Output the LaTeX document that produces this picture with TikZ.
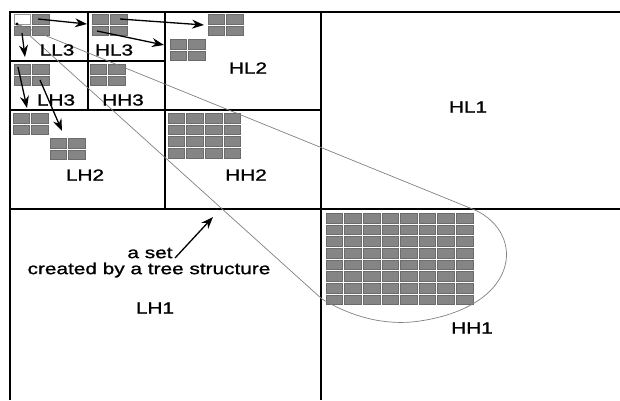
\documentclass[tikz,border=0pt]{standalone}
\usepackage{fontspec}
\newfontfamily\diagfont[FakeStretch=1.3, FakeBold=1.2]{Liberation Sans}
\usetikzlibrary{arrows.meta}

\begin{document}
\begin{tikzpicture}[
    x=1pt, y=-1pt,
    band/.style={line width=2pt},
    cell/.style={fill=black!48, draw=black!58, line width=.4pt},
    startcell/.style={fill=white, draw=black!40, line width=.4pt},
    loopline/.style={draw=black!50, line width=.7pt},
    pointer/.style={line width=1.3pt, -{Stealth[length=12pt, width=9pt]}},
    lbl/.style={font=\diagfont\fontsize{16}{18}\selectfont, inner sep=1pt},
]
    \useasboundingbox (0,0) rectangle (620,400);

    %% coefficient groups: x/y of the top left corner, columns, rows
    \foreach \gx/\gy/\nc/\nr in {13/13/2/2, 91/13/2/2, 13/63/2/2, 89/63/2/2,
                                 207/13/2/2, 169/38/2/2, 12/112/2/2, 49/137/2/2,
                                 167/112/4/4, 325/212/8/8}{
        \foreach \i in {1,...,\nc}{
            \foreach \j in {1,...,\nr}{
                \draw[cell] ({\gx+(\i-1)*18.6+1}, {\gy+(\j-1)*11.7+1}) rectangle ++(16.6, 9.7);
            }
        }
    }
    \draw[startcell] (14, 14) rectangle ++(16.6, 9.7);

    %% the subbands
    \draw[band] (10,400) -- (10,12) -- (620,12);
    \draw[band] (321,12) -- (321,400);
    \draw[band] (10,209) -- (620,209);
    \draw[band] (165,12) -- (165,209);
    \draw[band] (10,110) -- (321,110);
    \draw[band] (88,12) -- (88,110);
    \draw[band] (10,61) -- (165,61);

    %% the set spanned by the tree
    \coordinate (root) at (17,24);
    \draw[loopline] (root) -- (470,208) .. controls (525,228) and (525,305) .. (420,321)
        .. controls (380,327) and (345,313) .. (322,299) -- cycle;
    \fill (root) circle (1.6pt);

    %% parent to children
    \coordinate (llA) at (38,19);   \coordinate (llB) at (87,24);
    \coordinate (hlA) at (120,19);  \coordinate (hlB) at (204,25);
    \coordinate (hlC) at (97,31);   \coordinate (hlD) at (164,45);
    \coordinate (llC) at (22,33);   \coordinate (llD) at (25,57);
    \coordinate (lhA) at (18,67);   \coordinate (lhB) at (27,108);
    \coordinate (lhC) at (40,80);   \coordinate (lhD) at (62,131);
    \draw[pointer] (llA) -- (llB);
    \draw[pointer] (hlA) -- (hlB);
    \draw[pointer] (hlC) -- (hlD);
    \draw[pointer] (llC) -- (llD);
    \draw[pointer] (lhA) -- (lhB);
    \draw[pointer] (lhC) -- (lhD);

    %% subband names
    \node[lbl] (nLL3) at (57,50)  {LL3};
    \node[lbl] (nHL3) at (114,50) {HL3};
    \node[lbl] (nLH3) at (56,100) {LH3};
    \node[lbl] (nHH3) at (123,100) {HH3};
    \node[lbl] (nHL2) at (248,68) {HL2};
    \node[lbl] (nLH2) at (85,175) {LH2};
    \node[lbl] (nHH2) at (246,175) {HH2};
    \node[lbl] (nHL1) at (468,107) {HL1};
    \node[lbl] (nLH1) at (155,308) {LH1};
    \node[lbl] (nHH1) at (472,328) {HH1};

    %% note
    \node[lbl] (set) at (150,253) {a set};
    \node[lbl] (tree) at (149,270) {created by a tree structure};
    \coordinate (setA) at (175,258);
    \coordinate (setB) at (213,217);
    \draw[pointer] (setA) -- (setB);
\end{tikzpicture}
\end{document}
